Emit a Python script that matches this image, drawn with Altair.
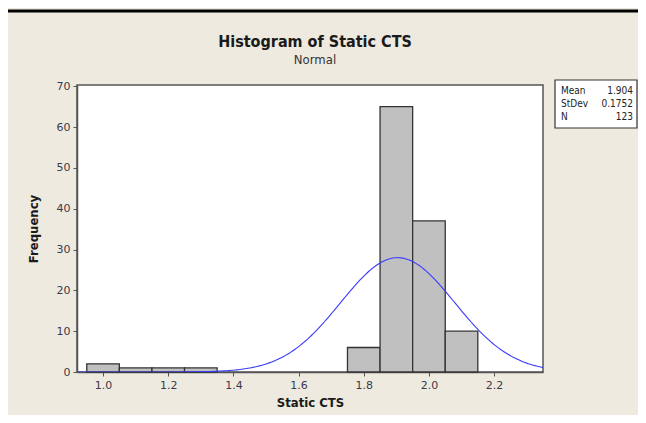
import altair as alt
import pandas as pd

# Histogram bins (width 0.1) and counts
bin_starts = [0.95, 1.05, 1.15, 1.25, 1.75, 1.85, 1.95, 2.05]
bin_ends = [1.05, 1.15, 1.25, 1.35, 1.85, 1.95, 2.05, 2.15]
counts = [2, 1, 1, 1, 6, 65, 37, 10]

# Fitted normal statistics
mean_val = 1.904
sd_val = 0.1752
n_val = 123
bin_width = 0.1

stat_labels = ["Mean", "StDev", "N"]
stat_values = ["1.904", "0.1752", "123"]

title_text = "Histogram of Static CTS"
subtitle_text = "Normal"

x_ticks = [1.0, 1.2, 1.4, 1.6, 1.8, 2.0, 2.2]
y_ticks = [0, 10, 20, 30, 40, 50, 60, 70]

bars_df = pd.DataFrame({"start": bin_starts, "end": bin_ends, "count": counts})

FONT = "DejaVu Sans"
NARROW = "Liberation Sans Narrow, DejaVu Sans Condensed, DejaVu Sans"
TXT = "#3a3a4a"
xscale = alt.Scale(domain=[0.92, 2.35], nice=False, zero=False)
yscale = alt.Scale(domain=[0, 70.3], nice=False)

bars = alt.Chart(bars_df).mark_bar(
    fill="#C0C0C0", stroke="#333333", strokeWidth=1.3
).encode(
    x=alt.X("start:Q", scale=xscale,
            axis=alt.Axis(values=x_ticks, format=".1f", title="Static CTS")),
    x2="end:Q",
    y=alt.Y("count:Q", scale=yscale,
            axis=alt.Axis(values=y_ticks, title="Frequency")),
    y2=alt.datum(0),
)

curve = alt.Chart(alt.sequence(0.92, 2.351, 0.005, as_="v")).transform_calculate(
    dens=f"{n_val}*{bin_width}/({sd_val}*sqrt(2*PI))*exp(-0.5*pow((datum.v-{mean_val})/{sd_val},2))"
).mark_line(color="#3a3aff", strokeWidth=1.1, clip=True).encode(
    x=alt.X("v:Q", scale=xscale),
    y=alt.Y("dens:Q", scale=yscale),
)

one = pd.DataFrame({"a": [0]})

box = alt.Chart(one).mark_rect(
    fill="white", stroke="#333333", strokeWidth=1.2
).encode(x=alt.value(478), x2=alt.value(560), y=alt.value(-5), y2=alt.value(43))

stat_layers = []
row_y = [6, 19, 32]
for lab, val, yy in zip(stat_labels, stat_values, row_y):
    d = pd.DataFrame({"lab": [lab], "val": [val]})
    stat_layers.append(
        alt.Chart(d).mark_text(align="left", baseline="middle", fontSize=10,
                               font=NARROW, color="#222222").encode(
            x=alt.value(484), y=alt.value(yy), text="lab:N")
    )
    stat_layers.append(
        alt.Chart(d).mark_text(align="right", baseline="middle", fontSize=10,
                               font=NARROW, color="#222222").encode(
            x=alt.value(556), y=alt.value(yy), text="val:N")
    )

title_mark = alt.Chart(pd.DataFrame({"t": [title_text]})).mark_text(
    align="center", baseline="middle", font=NARROW, fontSize=16,
    fontWeight="bold", color="#1a1a1a"
).encode(x=alt.value(238), y=alt.value(-43), text="t:N")

subtitle_mark = alt.Chart(pd.DataFrame({"t": [subtitle_text]})).mark_text(
    align="center", baseline="middle", font=NARROW, fontSize=13, color="#333333"
).encode(x=alt.value(238), y=alt.value(-25), text="t:N")

topline = alt.Chart(one).mark_rule(
    color="black", strokeWidth=3
).encode(x=alt.value(-69), x2=alt.value(561), y=alt.value(-74))

chart = alt.layer(
    bars, curve, box, *stat_layers, title_mark, subtitle_mark, topline
).properties(
    width=466,
    height=287,
    padding={"left": 69, "top": 77, "right": 95, "bottom": 43},
    autosize=alt.AutoSizeParams(type="none"),
    background="#EEEAE0",
).configure_view(
    fill="white", stroke="#555555", strokeWidth=1.5
).configure_axis(
    labelFont=FONT, labelFontSize=11, labelColor=TXT,
    titleFont=NARROW, titleFontSize=13, titleFontWeight="bold", titleColor="#1a1a1a",
    domainColor="#555555", domainWidth=1.5, tickColor="#555555", tickSize=4,
    grid=False, labelPadding=3,
).configure_axisX(titlePadding=6).configure_axisY(titlePadding=16)

chart.save("out.html", embed_options={"renderer": "svg", "actions": False})
